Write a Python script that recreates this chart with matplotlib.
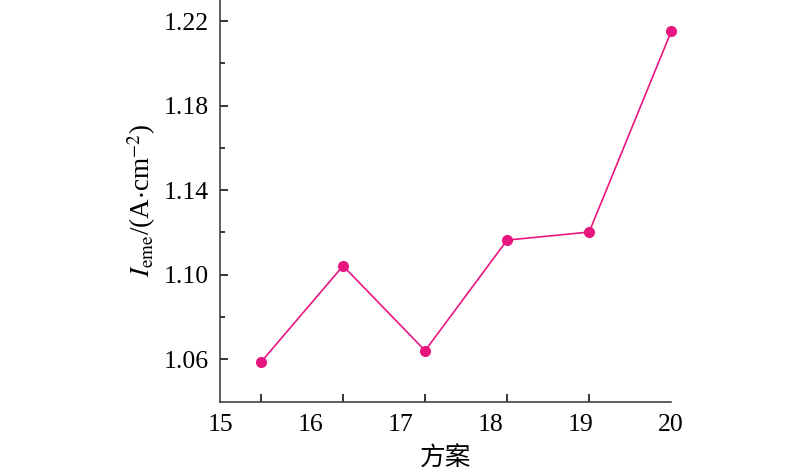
import numpy as np
import matplotlib
matplotlib.use("Agg")
import matplotlib.pyplot as plt

# ── data ──────────────────────────────────────────────────
schemes = [15, 16, 17, 18, 19, 20]
i_eme = [1.0587, 1.1042, 1.0641, 1.1164, 1.1202, 1.2151]
y_ticks = [1.06, 1.10, 1.14, 1.18, 1.22]

plt.rcParams['font.family'] = ['Liberation Serif', 'Noto Sans CJK SC']
plt.rcParams['mathtext.fontset'] = 'stix'

COLOR = '#E8177F'
FS = 18.5

fig = plt.figure(figsize=(8, 4.73), dpi=100)
ax = fig.add_axes([0.275, 0.151, 0.564, 0.849])

x = np.arange(1, len(i_eme) + 1)
ax.plot(x, i_eme, '-o', color=COLOR, linewidth=1.2, markersize=7, clip_on=False)

# x: ticks sit on the points, the labels are spread evenly over the axis
x_lo, x_hi = 0.5, 6.0
ax.set_xlim(x_lo, x_hi)
ax.set_xticks(x, [''] * len(x), minor=True)
ax.set_xticks(np.linspace(x_lo, x_hi, len(schemes)), [str(s) for s in schemes])
ax.tick_params(axis='x', which='major', length=0, pad=9, labelsize=FS)
ax.tick_params(axis='x', which='minor', direction='in', length=6, width=1.1)

ax.set_ylim(1.04, 1.23)
ax.set_yticks(y_ticks, [f"{v:.2f}" for v in y_ticks])
ax.set_yticks([1.08, 1.12, 1.16, 1.20], minor=True)
ax.tick_params(axis='y', which='major', direction='in', length=6, width=1.1,
               pad=8, labelsize=FS)
ax.tick_params(axis='y', which='minor', direction='in', length=3.5, width=1.1)

for side in ('top', 'right'):
    ax.spines[side].set_visible(False)
for side in ('left', 'bottom'):
    ax.spines[side].set_linewidth(1.1)
    ax.spines[side].set_color('#333333')

ax.set_ylabel(r"$I_{\mathrm{eme}}$/(A$\cdot$cm$^{-2}$)", fontsize=FS + 1, labelpad=4)
ax.set_xlabel("方案", fontsize=FS, labelpad=7, family=['Noto Sans CJK SC'])

fig.savefig("out.png", dpi=100)
